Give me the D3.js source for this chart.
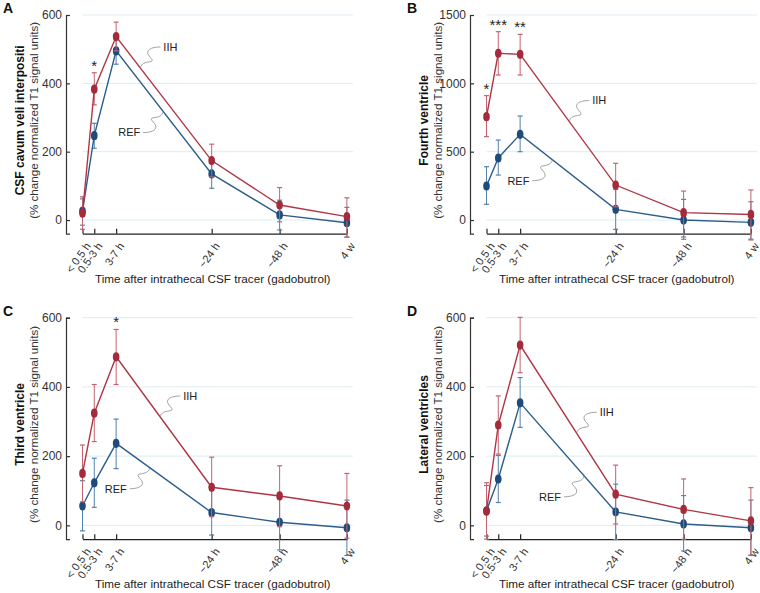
<!DOCTYPE html>
<html>
<head>
<meta charset="utf-8">
<script src="https://cdn.jsdelivr.net/npm/d3@7"></script>
<style>
  body { margin: 0; background: #fff; }
  text { font-family: "Liberation Sans", Arial, sans-serif; }
</style>
</head>
<body>
<script>
'use strict';

// chart size
let width = 760,
  height = 593

// time points along the x axis
const timeLabels = ["< 0.5 h", "0.5-3 h", "3-7 h", "~24 h", "~48 h", "4 w"];
const timePos = [0, 0.175, 0.5, 1.92, 2.93, 3.93];

// A: CSF cavum veli interpositi
const iihA = [20, 383, 537, 174, 44, 10];
const iihALo = [-27, 337, 495, 126, -5, -50];
const iihAHi = [68, 431, 579, 222, 95, 65];
const refA = [26, 247, 495, 135, 15, -8];
const refALo = [-15, 210, 456, 93, -29, -50];
const refAHi = [62, 283, 535, 177, 58, 37];

// B: fourth ventricle
const iihB = [756, 1220, 1212, 256, 54, 41];
const iihBLo = [610, 1061, 1061, 97, -141, -146];
const iihBHi = [910, 1378, 1358, 415, 212, 220];
const refB = [249, 454, 627, 78, 0, -17];
const refBLo = [115, 329, 500, -68, -124, -140];
const refBHi = [390, 585, 761, 224, 151, 134];

// C: third ventricle
const iihC = [150, 324, 487, 110, 85, 56];
const iihCLo = [68, 242, 407, 25, -4, -37];
const iihCHi = [232, 407, 566, 197, 172, 150];
const refC = [56, 123, 237, 37, 9, -7];
const refCLo = [-16, 52, 164, -28, -71, -87];
const refCHi = [129, 194, 307, 102, 89, 73];

// D: lateral ventricles
const iihD = [41, 290, 521, 90, 46, 13];
const iihDLo = [-40, 206, 441, 4, -40, -86];
const iihDHi = [123, 374, 601, 174, 134, 109];
const refD = [42, 134, 354, 39, 4, -7];
const refDLo = [-31, 66, 283, -41, -74, -87];
const refDHi = [115, 202, 427, 119, 86, 73];

// y axes
const ticks600 = [0, 200, 400, 600];
const ticks1500 = [0, 500, 1000, 1500];

// significance marks (index of time point, text)
const starsA = [[1, "*"]];
const starsB = [[0, "*"], [1, "***"], [2, "**"]];
const starsC = [[2, "*"]];
const starsD = [];

const xTitle = "Time after intrathecal CSF tracer (gadobutrol)";
const yUnits = "(% change normalized T1 signal units)";

const red = "#b03545", redLight = "#c4636d", redDot = "#a32c3c";
const blue = "#2c5d8b", blueLight = "#5282ad", blueDot = "#1d4b7a";

window.onload = function () {
  let svg = d3.select("body")
    .append("svg")
    .attr("width", width)
    .attr("height", height);

  let panels = [
    { letter: "A", title: "CSF cavum veli interpositi", ax: 66, top: 15, bottom: 233.7,
      yMin: -40, yMax: 600, ticks: ticks600, stars: starsA, iihT: 0.86, refT: 1.2,
      iih: [iihA, iihALo, iihAHi], ref: [refA, refALo, refAHi] },
    { letter: "B", title: "Fourth ventricle", ax: 470, top: 15, bottom: 233.7,
      yMin: -100, yMax: 1500, ticks: ticks1500, stars: starsB, iihT: 1.23, refT: 0.98,
      iih: [iihB, iihBLo, iihBHi], ref: [refB, refBLo, refBHi] },
    { letter: "C", title: "Third ventricle", ax: 66, top: 317.7, bottom: 539.2,
      yMin: -40, yMax: 600, ticks: ticks600, stars: starsC, iihT: 1.155, refT: 1.0,
      iih: [iihC, iihCLo, iihCHi], ref: [refC, refCLo, refCHi] },
    { letter: "D", title: "Lateral ventricles", ax: 470, top: 317.7, bottom: 539.2,
      yMin: -40, yMax: 600, ticks: ticks600, stars: starsD, iihT: 1.34, refT: 1.45,
      iih: [iihD, iihDLo, iihDHi], ref: [refD, refDLo, refDHi] }
  ];

  panels.forEach(p => drawPanel(svg, p));
}

// draws one of the four panels
function drawPanel(svg, p) {
  let g = svg.append("g");
  let x0 = p.ax + 16.5;
  let x = d3.scaleLinear().domain([0, d3.max(timePos)]).range([x0, x0 + 264.4]);
  let y = d3.scaleLinear().domain([p.yMin, p.yMax]).range([p.bottom, p.top]);

  // grid
  g.selectAll("line.grid")
    .data(p.ticks)
    .join("line")
    .attr("class", "grid")
    .attr("x1", x0)
    .attr("x2", x.range()[1] + 6)
    .attr("y1", d => y(d))
    .attr("y2", d => y(d))
    .attr("stroke", "#dcedf2")
    .attr("stroke-width", 1);

  // y axis
  let ya = g.append("g")
    .attr("transform", "translate(" + p.ax + ",0)")
    .call(d3.axisLeft(y).tickValues(p.ticks).tickFormat(d3.format("d"))
      .tickSize(-4).tickSizeOuter(-4).tickPadding(4));
  ya.select(".domain").attr("stroke", "#333").attr("stroke-width", 1.2);
  ya.selectAll(".tick line").attr("stroke", "#333").attr("stroke-width", 1.2);
  ya.selectAll("text").attr("font-size", 12).attr("fill", "#333")
    .attr("font-family", "Liberation Sans, Arial, sans-serif");

  // x axis
  let xa = g.append("g")
    .attr("transform", "translate(0," + p.bottom + ")")
    .call(d3.axisBottom(x).tickValues(timePos).tickSize(-5).tickSizeOuter(0)
      .tickFormat((d, i) => timeLabels[i]));
  xa.select(".domain").attr("stroke", "#222").attr("stroke-width", 1.2);
  xa.selectAll(".tick line").attr("stroke", "#222").attr("stroke-width", 1.2);
  xa.selectAll("text")
    .attr("font-size", 11)
    .attr("fill", "#333")
    .attr("font-family", "Liberation Sans, Arial, sans-serif")
    .attr("text-anchor", "end")
    .attr("y", 0)
    .attr("dy", "0.35em")
    .attr("transform", "translate(5,10) rotate(-55)");

  // titles
  g.append("text")
    .attr("x", (x.range()[0] + x.range()[1]) / 2 - 2)
    .attr("y", p.bottom + 49)
    .attr("text-anchor", "middle")
    .attr("font-size", 11.7)
    .attr("fill", "#222")
    .text(xTitle);

  let cy = (p.top + p.bottom) / 2 - 4;
  g.append("text")
    .attr("transform", "translate(" + (p.ax - 42) + "," + cy + ") rotate(-90)")
    .attr("text-anchor", "middle")
    .attr("font-size", 12)
    .attr("font-weight", "bold")
    .attr("fill", "#111")
    .text(p.title);
  g.append("text")
    .attr("transform", "translate(" + (p.ax - 28.5) + "," + cy + ") rotate(-90)")
    .attr("text-anchor", "middle")
    .attr("font-size", 11.6)
    .attr("fill", "#333")
    .text(yUnits);

  g.append("text")
    .attr("x", p.ax - 63)
    .attr("y", p.top - 2)
    .attr("font-size", 14)
    .attr("font-weight", "bold")
    .attr("fill", "#111")
    .text(p.letter);

  // series
  drawSeries(g, x, y, p.ref, blue, blueLight, blueDot);
  drawSeries(g, x, y, p.iih, red, redLight, redDot);

  // significance
  g.selectAll("text.star")
    .data(p.stars)
    .join("text")
    .attr("class", "star")
    .attr("x", d => x(timePos[d[0]]))
    .attr("y", d => y(p.iih[2][d[0]]) - 2)
    .attr("text-anchor", "middle")
    .attr("font-size", 15)
    .attr("fill", "#222")
    .text(d => d[1]);

  // labels with leader lines
  drawCallout(g, x, y, p.iih[0], p.iihT, "IIH", 1);
  drawCallout(g, x, y, p.ref[0], p.refT, "REF", -1);
}

function drawSeries(g, x, y, s, color, light, dot) {
  let pts = timePos.map((t, i) => ({ t: t, v: s[0][i], lo: s[1][i], hi: s[2][i] }));

  let bars = g.append("g");
  bars.selectAll("line.bar")
    .data(pts)
    .join("line")
    .attr("x1", d => x(d.t)).attr("x2", d => x(d.t))
    .attr("y1", d => y(d.lo)).attr("y2", d => y(d.hi))
    .attr("stroke", light).attr("stroke-width", 1);
  ["lo", "hi"].forEach(k => {
    bars.selectAll("line.cap" + k)
      .data(pts)
      .join("line")
      .attr("x1", d => x(d.t) - 2.5).attr("x2", d => x(d.t) + 2.5)
      .attr("y1", d => y(d[k])).attr("y2", d => y(d[k]))
      .attr("stroke", light).attr("stroke-width", 1.2);
  });

  g.append("path")
    .datum(pts)
    .attr("fill", "none")
    .attr("stroke", color)
    .attr("stroke-width", 1.4)
    .attr("d", d3.line().x(d => x(d.t)).y(d => y(d.v)));

  g.selectAll(null)
    .data(pts)
    .join("ellipse")
    .attr("cx", d => x(d.t))
    .attr("cy", d => y(d.v))
    .attr("rx", 3.3)
    .attr("ry", 4.6)
    .attr("fill", dot);
}

// label plus wavy leader line pointing at the series
function drawCallout(g, x, y, vals, t, label, dir) {
  let v = d3.scaleLinear().domain(timePos).range(vals)(t);
  let e = { x: x(t), y: y(v) };
  let s = { x: e.x + dir * 20, y: e.y - dir * 21 };
  let dx = e.x - s.x, dy = e.y - s.y;
  let m = { x: s.x + dx * 0.5, y: s.y + dy * 0.5 };
  g.append("path")
    .attr("fill", "none")
    .attr("stroke", "#888")
    .attr("stroke-width", 0.8)
    .attr("d", "M" + s.x + "," + s.y +
      " C" + (s.x + dx * 0.45) + "," + s.y + " " + (m.x + dx * 0.35) + "," + (m.y - dy * 0.35) + " " + m.x + "," + m.y +
      " S" + (e.x - dx * 0.1) + "," + (e.y - dy * 0.45) + " " + e.x + "," + e.y);
  g.append("text")
    .attr("x", s.x + dir * 3)
    .attr("y", s.y)
    .attr("dy", "0.35em")
    .attr("text-anchor", dir > 0 ? "start" : "end")
    .attr("font-size", 11)
    .attr("fill", "#222")
    .text(label);
}
</script>
</body>
</html>
